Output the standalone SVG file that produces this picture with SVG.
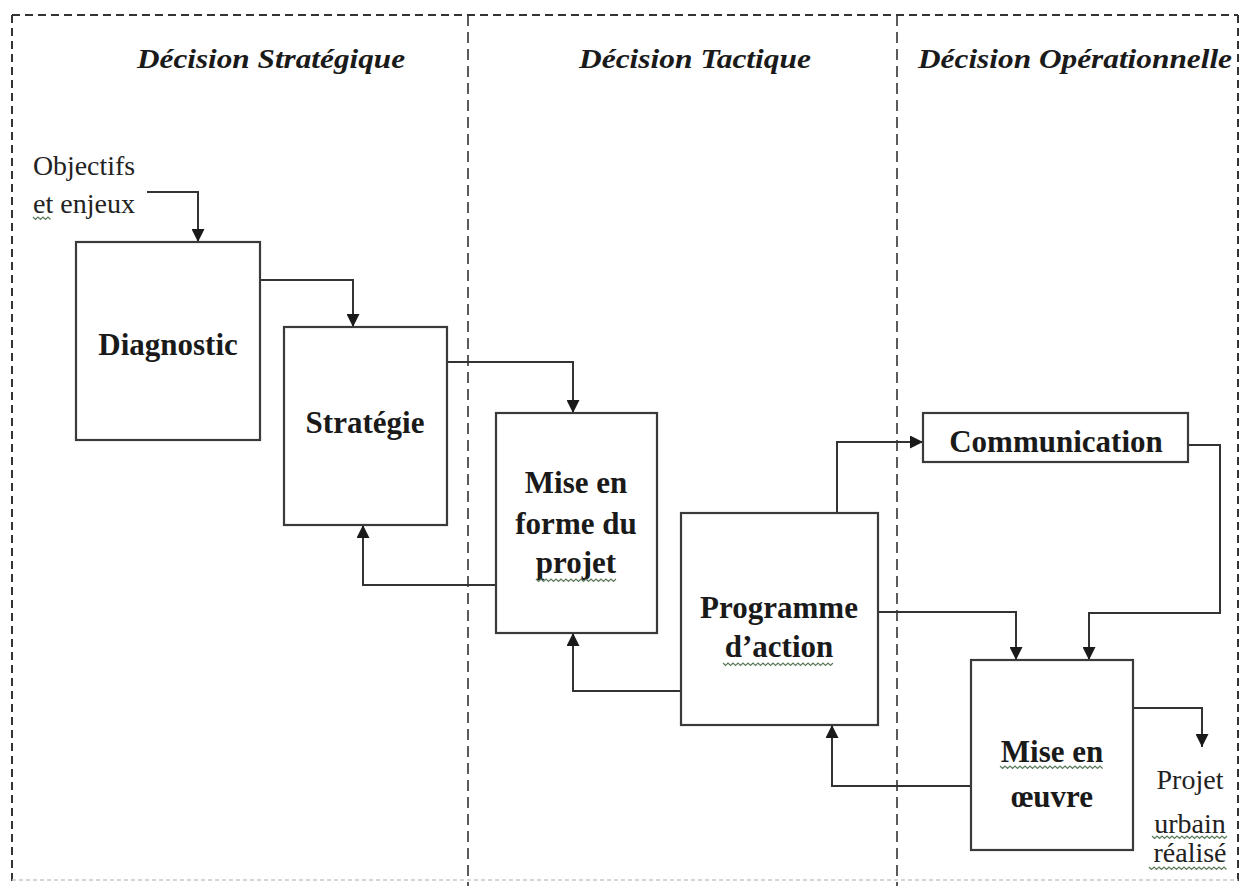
<svg xmlns="http://www.w3.org/2000/svg" width="1246" height="886" viewBox="0 0 1246 886">
<defs>
<marker id="ah" markerUnits="userSpaceOnUse" markerWidth="13" markerHeight="13" refX="13" refY="6.5" orient="auto" viewBox="0 0 13 13">
<path d="M0,0 L13,6.5 L0,13 Z" fill="#1a1a1a"/>
</marker>
<style>
.frame{fill:none;stroke:#333;stroke-width:2;stroke-dasharray:8 5}
.div{fill:none;stroke:#333;stroke-width:1.6;stroke-dasharray:11 6}
.box{fill:#fff;stroke:#3a3a3a;stroke-width:2.2}
.con{fill:none;stroke:#333;stroke-width:2}
.bt{font-family:"Liberation Serif","Times New Roman",serif;font-weight:bold;font-size:31px;fill:#1a1a1a;text-anchor:middle}
.hd{font-family:"Liberation Serif","Times New Roman",serif;font-weight:bold;font-style:italic;font-size:28px;fill:#1a1a1a;text-anchor:middle}
.rt{font-family:"Liberation Serif","Times New Roman",serif;font-size:28px;fill:#222}
.wv{fill:none;stroke:#5b7a5b;stroke-width:1.2}
</style>
</defs>
<rect width="1246" height="886" fill="#fff"/>
<g id="frame">
<path class="frame" d="M12,15 H1238 M12,15 V886 M1238,15 V886"/>
<path d="M12,880 H1238" fill="none" stroke="#c8c8c8" stroke-width="1.5" stroke-dasharray="4 3"/>
<path class="div" d="M468,15 V886 M897,15 V886"/>
</g>
<g id="headers">
<text class="hd" x="271" y="68" textLength="268" lengthAdjust="spacingAndGlyphs">Décision Stratégique</text>
<text class="hd" x="695" y="68" textLength="232" lengthAdjust="spacingAndGlyphs">Décision Tactique</text>
<text class="hd" x="1075" y="68" textLength="314" lengthAdjust="spacingAndGlyphs">Décision Opérationnelle</text>
</g>
<g id="connectors">
<path class="con" marker-end="url(#ah)" d="M147,192 H198 V242"/>
<path class="con" marker-end="url(#ah)" d="M260,280 H353 V327"/>
<path class="con" marker-end="url(#ah)" d="M447,362 H573 V413"/>
<path class="con" marker-end="url(#ah)" d="M496,585 H363 V525"/>
<path class="con" marker-end="url(#ah)" d="M681,691 H573 V633"/>
<path class="con" marker-end="url(#ah)" d="M837,513 V442 H923"/>
<path class="con" marker-end="url(#ah)" d="M1188,445 H1220 V613 H1089 V660"/>
<path class="con" marker-end="url(#ah)" d="M878,612 H1016 V660"/>
<path class="con" marker-end="url(#ah)" d="M971,786 H832 V725"/>
<path class="con" marker-end="url(#ah)" d="M1133,708 H1202 V747"/>
</g>
<g id="objectifs">
<text class="rt" x="33" y="175" textLength="102" lengthAdjust="spacingAndGlyphs">Objectifs</text>
<text class="rt" x="33" y="213" textLength="102" lengthAdjust="spacingAndGlyphs">et enjeux</text>
<path class="wv" d="M33,217 l2.5,2.5 l2.5,-2.5 l2.5,2.5 l2.5,-2.5 l2.5,2.5 l2.5,-2.5 l2.5,2.5"/>
</g>
<g id="diagnostic">
<rect class="box" x="76" y="242" width="184" height="198"/>
<text class="bt" x="168" y="355">Diagnostic</text>
</g>
<g id="strategie">
<rect class="box" x="284" y="327" width="163" height="198"/>
<text class="bt" x="365" y="433">Stratégie</text>
</g>
<g id="mise-en-forme">
<rect class="box" x="496" y="413" width="161" height="220"/>
<text class="bt" x="576" y="493">Mise en</text>
<text class="bt" x="576" y="534">forme du</text>
<text class="bt" x="576" y="573">projet</text>
<path class="wv" d="M536,579 l2.5,2.5 l2.5,-2.5 l2.5,2.5 l2.5,-2.5 l2.5,2.5 l2.5,-2.5 l2.5,2.5 l2.5,-2.5 l2.5,2.5 l2.5,-2.5 l2.5,2.5 l2.5,-2.5 l2.5,2.5 l2.5,-2.5 l2.5,2.5 l2.5,-2.5 l2.5,2.5 l2.5,-2.5 l2.5,2.5 l2.5,-2.5 l2.5,2.5 l2.5,-2.5 l2.5,2.5 l2.5,-2.5 l2.5,2.5 l2.5,-2.5 l2.5,2.5 l2.5,-2.5 l2.5,2.5 l2.5,-2.5 l2.5,2.5 l2.5,-2.5"/>
</g>
<g id="programme">
<rect class="box" x="681" y="513" width="197" height="212"/>
<text class="bt" x="779" y="618">Programme</text>
<text class="bt" x="779" y="657">d’action</text>
<path class="wv" d="M723,663 l2.5,2.5 l2.5,-2.5 l2.5,2.5 l2.5,-2.5 l2.5,2.5 l2.5,-2.5 l2.5,2.5 l2.5,-2.5 l2.5,2.5 l2.5,-2.5 l2.5,2.5 l2.5,-2.5 l2.5,2.5 l2.5,-2.5 l2.5,2.5 l2.5,-2.5 l2.5,2.5 l2.5,-2.5 l2.5,2.5 l2.5,-2.5 l2.5,2.5 l2.5,-2.5 l2.5,2.5 l2.5,-2.5 l2.5,2.5 l2.5,-2.5 l2.5,2.5 l2.5,-2.5 l2.5,2.5 l2.5,-2.5 l2.5,2.5 l2.5,-2.5 l2.5,2.5 l2.5,-2.5 l2.5,2.5 l2.5,-2.5 l2.5,2.5 l2.5,-2.5 l2.5,2.5 l2.5,-2.5 l2.5,2.5 l2.5,-2.5 l2.5,2.5 l2.5,-2.5"/>
</g>
<g id="communication">
<rect class="box" x="923" y="413" width="265" height="49"/>
<text class="bt" x="1056" y="452">Communication</text>
</g>
<g id="mise-en-oeuvre">
<rect class="box" x="971" y="660" width="162" height="190"/>
<text class="bt" x="1052" y="762">Mise en</text>
<text class="bt" x="1052" y="807">œuvre</text>
<path class="wv" d="M1000,766 l2.5,2.5 l2.5,-2.5 l2.5,2.5 l2.5,-2.5 l2.5,2.5 l2.5,-2.5 l2.5,2.5 l2.5,-2.5 l2.5,2.5 l2.5,-2.5 l2.5,2.5 l2.5,-2.5 l2.5,2.5 l2.5,-2.5 l2.5,2.5 l2.5,-2.5 l2.5,2.5 l2.5,-2.5 l2.5,2.5 l2.5,-2.5 l2.5,2.5 l2.5,-2.5 l2.5,2.5 l2.5,-2.5 l2.5,2.5 l2.5,-2.5 l2.5,2.5 l2.5,-2.5 l2.5,2.5 l2.5,-2.5 l2.5,2.5 l2.5,-2.5 l2.5,2.5 l2.5,-2.5 l2.5,2.5 l2.5,-2.5 l2.5,2.5 l2.5,-2.5 l2.5,2.5 l2.5,-2.5 l2.5,2.5"/>
</g>
<g id="projet-urbain">
<text class="rt" x="1190" y="789" font-size="30" text-anchor="middle">Projet</text>
<text class="rt" x="1190" y="833" font-size="30" text-anchor="middle">urbain</text>
<text class="rt" x="1190" y="862" font-size="30" text-anchor="middle">réalisé</text>
<path class="wv" d="M1152,836 l2.5,2.5 l2.5,-2.5 l2.5,2.5 l2.5,-2.5 l2.5,2.5 l2.5,-2.5 l2.5,2.5 l2.5,-2.5 l2.5,2.5 l2.5,-2.5 l2.5,2.5 l2.5,-2.5 l2.5,2.5 l2.5,-2.5 l2.5,2.5 l2.5,-2.5 l2.5,2.5 l2.5,-2.5 l2.5,2.5 l2.5,-2.5 l2.5,2.5 l2.5,-2.5 l2.5,2.5 l2.5,-2.5 l2.5,2.5 l2.5,-2.5 l2.5,2.5 l2.5,-2.5 l2.5,2.5 l2.5,-2.5"/>
<path class="wv" d="M1149,867 l2.5,2.5 l2.5,-2.5 l2.5,2.5 l2.5,-2.5 l2.5,2.5 l2.5,-2.5 l2.5,2.5 l2.5,-2.5 l2.5,2.5 l2.5,-2.5 l2.5,2.5 l2.5,-2.5 l2.5,2.5 l2.5,-2.5 l2.5,2.5 l2.5,-2.5 l2.5,2.5 l2.5,-2.5 l2.5,2.5 l2.5,-2.5 l2.5,2.5 l2.5,-2.5 l2.5,2.5 l2.5,-2.5 l2.5,2.5 l2.5,-2.5 l2.5,2.5 l2.5,-2.5 l2.5,2.5 l2.5,-2.5 l2.5,2.5"/>
</g>
</svg>
